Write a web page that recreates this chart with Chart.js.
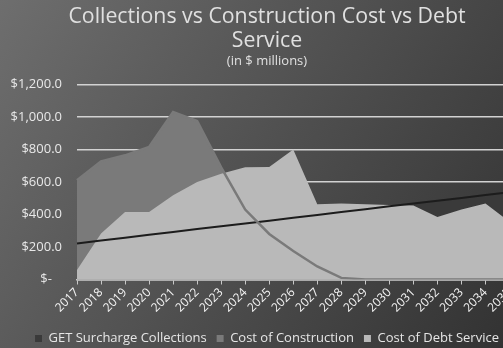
<!DOCTYPE html>
<html>
<head>
<meta charset="utf-8">
<script src="https://cdn.jsdelivr.net/npm/chart.js@4.4.0/dist/chart.umd.min.js"></script>
<style>
    html, body { margin: 0; padding: 0; overflow: hidden; background: #4a4a4a; }
    #wrap { width: 534px; height: 348px; }
</style>
</head>
<body>
<div id="wrap"><canvas id="chart" width="534" height="348"></canvas></div>
<script>
const years = ['2017', '2018', '2019', '2020', '2021', '2022', '2023', '2024', '2025', '2026',
    '2027', '2028', '2029', '2030', '2031', '2032', '2033', '2034', '2035']

// $ millions
const getCollections = [222, 240, 257, 275, 292, 310, 327, 345, 362, 380, 397, 415, 432, 450, 467, 485, 502, 520, 537]
const constructionCost = [610, 727, 764, 815, 1030, 975, 690, 430, 280, 175, 80, 10, 0, 0, 0, 0, 0, 0, 0]
const debtService = [58, 283, 416, 416, 518, 600, 651, 690, 692, 799, 463, 467, 463, 458, 455, 385, 430, 467, 355]

const yTicks = [0, 200, 400, 600, 800, 1000, 1200]

const FONT = "'Open Sans', sans-serif"

// gradient backdrop, lighter top left
const backdrop = {
    id: 'backdrop',
    beforeDraw(chart) {
        const { ctx, width, height } = chart
        const g = ctx.createLinearGradient(0, 0, width, height)
        g.addColorStop(0, '#6e6e6e')
        g.addColorStop(1, '#303030')
        ctx.save()
        ctx.fillStyle = g
        ctx.fillRect(0, 0, width, height)
        ctx.restore()
    }
}

function money(v) {
    if (v === 0) return '$-   '
    return '$' + v.toLocaleString('en-US', { minimumFractionDigits: 1, maximumFractionDigits: 1 })
}

const chart = new Chart(document.getElementById('chart'), {
    type: 'line',
    data: {
        labels: years,
        datasets: [
            {
                label: 'GET Surcharge Collections',
                data: getCollections,
                fill: 'origin',
                backgroundColor: '#3a3a3a',
                borderColor: '#1c1c1c',
                borderWidth: 2,
                order: 3
            },
            {
                label: 'Cost of Construction',
                data: constructionCost,
                fill: 'origin',
                backgroundColor: '#7a7a7a',
                borderColor: '#7a7a7a',
                borderWidth: 2.5,
                order: 2
            },
            {
                label: 'Cost of Debt Service',
                data: debtService,
                fill: 'origin',
                backgroundColor: '#b9b9b9',
                borderColor: 'rgba(0,0,0,0)',
                borderWidth: 1,
                order: 1
            }
        ]
    },
    options: {
        responsive: false,
        animation: false,
        elements: {
            point: { radius: 0 },
            line: { tension: 0 }
        },
        layout: { padding: { left: 0, right: 0, top: 0, bottom: -7 } },
        scales: {
            x: {
                grid: { drawOnChartArea: false, color: '#c8c8c8', tickLength: 5, lineWidth: 1 },
                border: { color: '#c8c8c8', width: 1.5 },
                ticks: {
                    autoSkip: false, minRotation: 45, maxRotation: 45, padding: 1,
                    color: '#f4f4f4', font: { family: FONT, size: 12 }
                },
                afterFit(scale) { scale.height = 42.5 }
            },
            y: {
                min: 0,
                max: 1200,
                afterBuildTicks(scale) { scale.ticks = yTicks.map(v => ({ value: v })) },
                grid: { color: '#d2d2d2', lineWidth: 1.5, drawTicks: false },
                border: { display: false },
                ticks: {
                    padding: 15, color: '#e8e8e8', font: { family: FONT, size: 13 },
                    callback: money
                },
                afterFit(scale) { scale.width = 77 }
            },
            // empty spacer so the plot runs past the window edge like the original
            spacer: {
                type: 'linear',
                position: 'right',
                grid: { display: false },
                border: { display: false },
                ticks: { display: false },
                afterFit(scale) { scale.width = 24.5 }
            }
        },
        plugins: {
            filler: { drawTime: 'beforeDatasetsDraw' },
            tooltip: { enabled: false },
            title: {
                display: true,
                text: ['Collections vs Construction Cost vs Debt', 'Service'],
                color: '#e0e0e0',
                font: { family: FONT, size: 21.3, weight: 'normal', lineHeight: 1.17 },
                padding: { top: 4, bottom: 0 }
            },
            subtitle: {
                display: true,
                text: '(in $ millions)',
                color: '#e0e0e0',
                font: { family: FONT, size: 13, weight: 'normal', lineHeight: 1.2 },
                padding: { top: 0, bottom: 15 }
            },
            legend: {
                position: 'bottom',
                labels: {
                    boxWidth: 7, boxHeight: 7, padding: 10,
                    color: '#e6e6e6', font: { family: FONT, size: 13 },
                    sort: (a, b) => a.datasetIndex - b.datasetIndex,
                    generateLabels(c) {
                        return Chart.defaults.plugins.legend.labels.generateLabels(c).map(item => {
                            item.lineWidth = 0
                            return item
                        })
                    }
                }
            }
        }
    },
    plugins: [backdrop]
})
</script>
</body>
</html>
